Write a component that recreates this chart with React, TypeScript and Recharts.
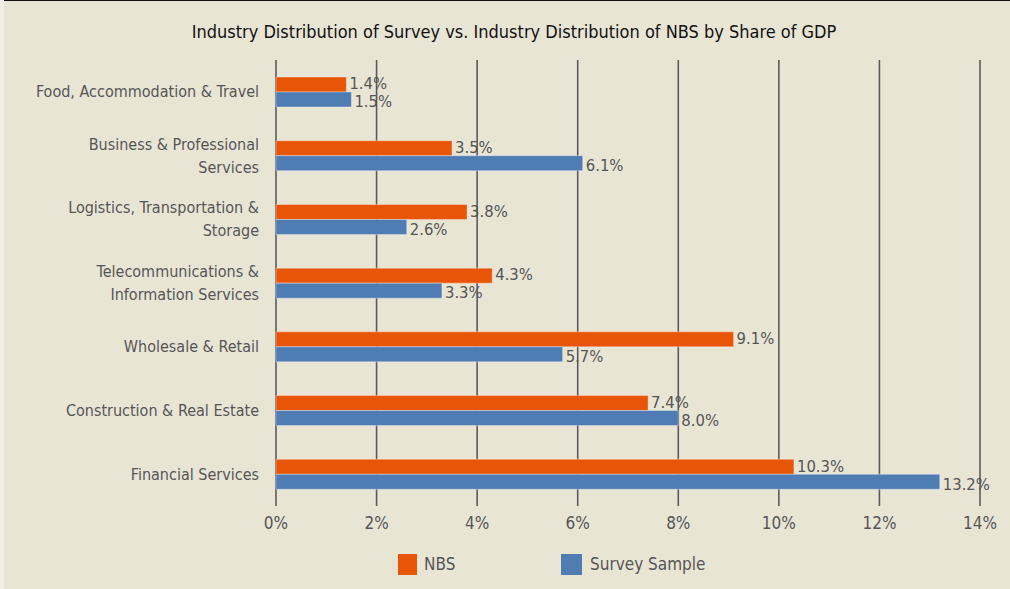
import React from 'react';
import { BarChart, Bar, XAxis, YAxis, CartesianGrid, LabelList, Legend } from 'recharts';

const categories = [
  'Food, Accommodation & Travel',
  'Business & Professional\nServices',
  'Logistics, Transportation &\nStorage',
  'Telecommunications &\nInformation Services',
  'Wholesale & Retail',
  'Construction & Real Estate',
  'Financial Services',
];
const nbsValues = [1.4, 3.5, 3.8, 4.3, 9.1, 7.4, 10.3];
const surveyValues = [1.5, 6.1, 2.6, 3.3, 5.7, 8.0, 13.2];
const xTicks = [0, 2, 4, 6, 8, 10, 12, 14];
const seriesNames = { nbs: 'NBS', survey: 'Survey Sample' };

const data = categories.map((c, i) => ({ category: c, nbs: nbsValues[i], survey: surveyValues[i] }));

const FONT = '"Liberation Sans Narrow", "DejaVu Sans Condensed", "Liberation Sans", sans-serif';
const TEXT = '#555555';
const ORANGE = '#E95506';
const BLUE = '#4F7CB3';
const BG = '#E9E5D5';

const YTick = (props: any) => {
  const { x, y, payload } = props;
  const lines = String(payload.value).split('\n');
  const lh = 23;
  const start = -((lines.length - 1) * lh) / 2;
  return (
    <text x={x} y={y} textAnchor="end" fill={TEXT} fontSize={16} fontFamily={FONT}>
      {lines.map((l, i) => (
        <tspan key={i} x={x} y={y + start + i * lh} dy="0.35em">{l}</tspan>
      ))}
    </text>
  );
};

const ValueLabel = (shift: number) => (props: any) => {
  const { x, y, width, height, value } = props;
  return (
    <text
      x={x + width + 3}
      y={y + height / 2 + shift}
      dy="0.35em"
      textAnchor="start"
      fill={TEXT}
      fontSize={16.5}
      fontFamily={FONT}
    >
      {`${Number(value).toFixed(1)}%`}
    </text>
  );
};

const LegendContent = () => (
  <div style={{ position: 'relative', height: 40, width: 1010, fontFamily: FONT, fontSize: 17, color: TEXT }}>
    <div style={{ position: 'absolute', left: 398, top: 18, width: 19, height: 21, background: ORANGE }} />
    <div style={{ position: 'absolute', left: 424, top: 18, lineHeight: '21px' }}>{seriesNames.nbs}</div>
    <div style={{ position: 'absolute', left: 561, top: 18, width: 21, height: 21, background: BLUE }} />
    <div style={{ position: 'absolute', left: 590, top: 18, lineHeight: '21px' }}>{seriesNames.survey}</div>
  </div>
);

export default function App() {
  return (
    <div style={{ position: 'absolute', left: 0, top: 0, width: 1010, height: 589, background: BG, overflow: 'hidden' }}>
      <div style={{ position: 'absolute', left: 0, top: 0, width: 4, height: 589, background: '#F1EEE3' }} />
      <div style={{ position: 'absolute', left: 4, top: 0, width: 1006, height: 1, background: '#111' }} />
      <div style={{ position: 'absolute', left: 9, top: 20, width: 1010, textAlign: 'center', fontFamily: FONT, fontSize: 18, color: '#111', lineHeight: '24px' }}>
        Industry Distribution of Survey vs. Industry Distribution of NBS by Share of GDP
      </div>
      <BarChart
        width={1010}
        height={589}
        data={data}
        layout="vertical"
        margin={{ top: 60, right: 30, bottom: 13, left: 0 }}
        barGap={0}
        style={{ position: 'absolute', left: 0, top: 0 }}
      >
        <CartesianGrid horizontal={false} vertical stroke="#5a5a5a" strokeWidth={1.6} />
        <XAxis
          type="number"
          domain={[0, 14]}
          ticks={xTicks}
          tickFormatter={(v: number) => `${v}%`}
          axisLine={false}
          tickLine={false}
          tickSize={0}
          tickMargin={11}
          height={30}
          tick={{ fill: TEXT, fontSize: 17, fontFamily: FONT }}
          interval={0}
        />
        <YAxis
          type="category"
          dataKey="category"
          width={276}
          axisLine={false}
          tickLine={false}
          tickSize={0}
          tickMargin={17}
          tick={<YTick />}
          interval={0}
        />
        <Legend verticalAlign="bottom" height={40} content={<LegendContent />} wrapperStyle={{ left: 0, width: 1010 }} />
        <Bar dataKey="nbs" name={seriesNames.nbs} fill={ORANGE} barSize={15} isAnimationActive={false} stroke="rgba(255,255,255,0.35)" strokeWidth={1}>
          <LabelList dataKey="nbs" content={ValueLabel(-1)} />
        </Bar>
        <Bar dataKey="survey" name={seriesNames.survey} fill={BLUE} barSize={15} isAnimationActive={false} stroke="rgba(255,255,255,0.35)" strokeWidth={1}>
          <LabelList dataKey="survey" content={ValueLabel(2)} />
        </Bar>
      </BarChart>
    </div>
  );
}
